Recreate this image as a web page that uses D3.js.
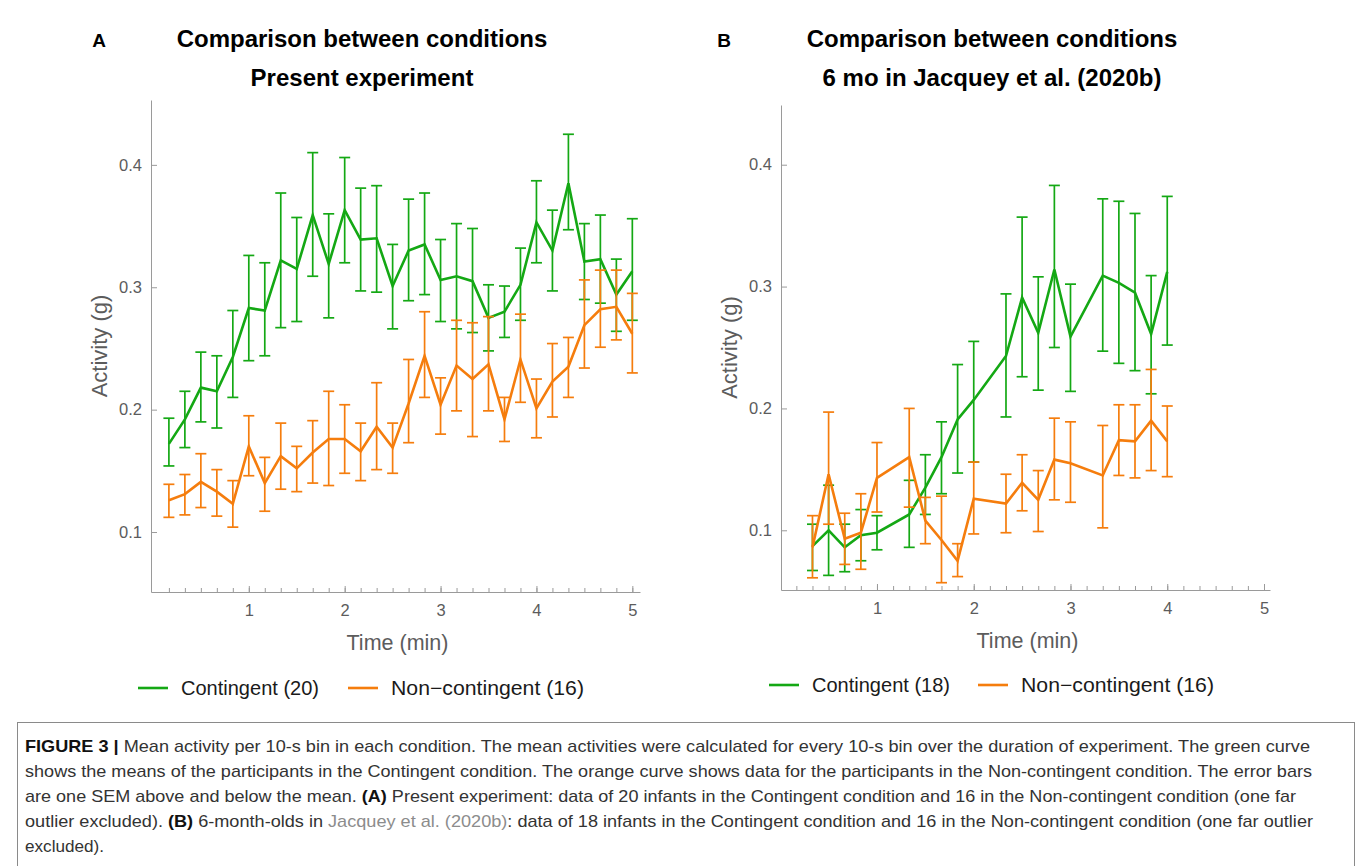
<!DOCTYPE html>
<html>
<head>
<meta charset="utf-8">
<script src="https://cdn.jsdelivr.net/npm/d3@7"></script>
<style>
  body { margin: 0; background: #fff; }
  svg { display: block; font-family: "Liberation Sans", Arial, sans-serif; }
</style>
</head>
<body>
<div id="my_dataviz"></div>
<script>
// bins (seconds) and values
var binsA = [10,20,30,40,50,60,70,80,90,100,110,120,130,140,150,160,170,180,190,200,210,220,230,240,250,260,270,280,290,300];
var contA     = [0.172,0.192,0.218,0.215,0.243,0.283,0.281,0.322,0.315,0.359,0.319,0.363,0.339,0.340,0.301,0.330,0.335,0.306,0.309,0.305,0.275,0.280,0.302,0.353,0.330,0.385,0.321,0.323,0.294,0.313];
var contA_lo  = [0.154,0.169,0.190,0.185,0.210,0.240,0.244,0.267,0.272,0.309,0.275,0.320,0.297,0.296,0.266,0.289,0.294,0.272,0.266,0.263,0.248,0.259,0.273,0.320,0.297,0.347,0.290,0.287,0.264,0.273];
var contA_hi  = [0.193,0.215,0.247,0.244,0.281,0.326,0.320,0.377,0.357,0.410,0.360,0.406,0.381,0.383,0.335,0.372,0.377,0.339,0.352,0.348,0.302,0.301,0.332,0.387,0.363,0.425,0.352,0.359,0.323,0.356];
var nonA      = [0.126,0.131,0.141,0.133,0.123,0.170,0.140,0.162,0.152,0.165,0.176,0.176,0.166,0.186,0.169,0.205,0.244,0.204,0.236,0.225,0.237,0.192,0.241,0.201,0.223,0.235,0.269,0.282,0.284,0.262];
var nonA_lo   = [0.112,0.114,0.120,0.113,0.104,0.146,0.117,0.135,0.133,0.140,0.138,0.148,0.142,0.151,0.148,0.173,0.210,0.180,0.199,0.178,0.199,0.174,0.206,0.177,0.194,0.210,0.234,0.251,0.257,0.230];
var nonA_hi   = [0.139,0.147,0.164,0.151,0.142,0.195,0.161,0.189,0.170,0.191,0.215,0.204,0.189,0.222,0.189,0.241,0.280,0.226,0.273,0.271,0.276,0.210,0.278,0.225,0.254,0.259,0.306,0.314,0.314,0.295];

var binsB = [20,30,40,50,60,80,90,100,110,120,140,150,160,170,180,200,210,220,230,240];
var contB     = [0.087,0.100,0.086,0.096,0.098,0.113,0.135,0.160,0.191,0.207,0.243,0.291,0.262,0.314,0.259,0.309,0.303,0.295,0.261,0.312];
var contB_lo  = [0.067,0.063,0.066,0.075,0.084,0.086,0.113,0.130,0.147,0.156,0.193,0.226,0.215,0.250,0.214,0.247,0.237,0.231,0.212,0.252];
var contB_hi  = [0.105,0.137,0.105,0.117,0.112,0.141,0.162,0.189,0.236,0.255,0.294,0.357,0.308,0.383,0.302,0.372,0.370,0.360,0.309,0.374];
var nonB      = [0.086,0.146,0.093,0.098,0.143,0.160,0.108,0.092,0.075,0.126,0.122,0.139,0.125,0.158,0.155,0.145,0.174,0.173,0.190,0.173];
var nonB_lo   = [0.061,0.105,0.072,0.068,0.115,0.119,0.089,0.057,0.062,0.097,0.098,0.116,0.099,0.125,0.123,0.102,0.145,0.143,0.149,0.144];
var nonB_hi   = [0.112,0.197,0.114,0.130,0.172,0.200,0.127,0.128,0.089,0.156,0.146,0.162,0.149,0.192,0.189,0.186,0.203,0.203,0.232,0.202];

var xTicks = [1,2,3,4,5];
var yTicks = [0.1,0.2,0.3,0.4];
var legendA = ["Contingent (20)", "Non\u2212contingent (16)"];
var legendB = ["Contingent (18)", "Non\u2212contingent (16)"];

var green = "#14a814", orange = "#f57d0d";
var axisCol = "#9a9a9a", textCol = "#5c5c5c";

var svg = d3.select('#my_dataviz')
  .append('svg')
    .attr('width', 1358)
    .attr('height', 866);

function panel(p) {
  var x = d3.scaleLinear().domain(p.xdom).range([p.left, p.right]);
  var y = d3.scaleLinear().domain(p.ydom).range([p.bottom, p.top]);
  var g = svg.append("g");

  // minor ticks every 10 s
  var minor = d3.range(1, 31).map(function(i) { return i / 6; });
  g.append("g")
    .attr("transform", "translate(0," + p.bottom + ")")
    .call(d3.axisBottom(x).tickValues(minor).tickSize(-4).tickSizeOuter(0).tickFormat(""))
    .call(function(a) { a.select(".domain").remove(); a.selectAll("line").attr("stroke", axisCol); });

  g.append("g")
    .attr("transform", "translate(0," + p.bottom + ")")
    .call(d3.axisBottom(x).tickValues(xTicks).tickSize(-6).tickSizeOuter(0).tickPadding(12).tickFormat(d3.format("d")))
    .call(function(a) {
      a.select(".domain").attr("stroke", axisCol);
      a.selectAll("line").attr("stroke", axisCol);
      a.selectAll("text").attr("fill", textCol).style("font-size", "16.5px");
    });

  g.append("g")
    .attr("transform", "translate(" + p.left + ",0)")
    .call(d3.axisLeft(y).tickValues(yTicks).tickSize(-6).tickSizeOuter(0).tickPadding(9).tickFormat(d3.format(".1f")))
    .call(function(a) {
      a.select(".domain").attr("stroke", axisCol);
      a.selectAll("line").attr("stroke", axisCol);
      a.selectAll("text").attr("fill", textCol).style("font-size", "16.5px");
    });

  // axis labels
  g.append("text")
    .attr("x", (p.left + p.right) / 2 + 2)
    .attr("y", p.bottom + 58)
    .attr("text-anchor", "middle")
    .attr("fill", textCol)
    .style("font-size", "21.5px")
    .text("Time (min)");

  g.append("text")
    .attr("transform", "translate(" + (p.left - 44) + "," + ((p.top + p.bottom) / 2) + ")rotate(-90)")
    .attr("text-anchor", "middle")
    .attr("fill", textCol)
    .style("font-size", "22px")
    .text("Activity (g)");

  // titles
  g.append("text").attr("x", p.letterX).attr("y", 47)
    .attr("text-anchor", "middle").style("font-weight", "bold").style("font-size", "19px")
    .text(p.letter);
  g.append("text").attr("x", p.titleX).attr("y", 47)
    .attr("text-anchor", "middle").style("font-weight", "bold").style("font-size", "24px")
    .text("Comparison between conditions");
  g.append("text").attr("x", p.titleX).attr("y", 86)
    .attr("text-anchor", "middle").style("font-weight", "bold").style("font-size", "24px")
    .text(p.subtitle);

  var line = d3.line()
    .x(function(d) { return x(d.t); })
    .y(function(d) { return y(d.m); });

  p.series.forEach(function(s) {
    var data = p.bins.map(function(b, i) { return {t: b / 60, m: s.mean[i], lo: s.lo[i], hi: s.hi[i]}; });
    var eb = g.append("g");
    eb.selectAll("line.v").data(data).enter().append("line")
      .attr("x1", function(d) { return x(d.t); })
      .attr("x2", function(d) { return x(d.t); })
      .attr("y1", function(d) { return y(d.lo); })
      .attr("y2", function(d) { return y(d.hi); })
      .attr("stroke", s.color).attr("stroke-width", 1.7);
    eb.selectAll("line.lo").data(data).enter().append("line")
      .attr("x1", function(d) { return x(d.t) - 5.5; })
      .attr("x2", function(d) { return x(d.t) + 5.5; })
      .attr("y1", function(d) { return y(d.lo); })
      .attr("y2", function(d) { return y(d.lo); })
      .attr("stroke", s.color).attr("stroke-width", 1.7);
    eb.selectAll("line.hi").data(data).enter().append("line")
      .attr("x1", function(d) { return x(d.t) - 5.5; })
      .attr("x2", function(d) { return x(d.t) + 5.5; })
      .attr("y1", function(d) { return y(d.hi); })
      .attr("y2", function(d) { return y(d.hi); })
      .attr("stroke", s.color).attr("stroke-width", 1.7);
    g.append("path")
      .datum(data)
      .attr("fill", "none")
      .attr("stroke", s.color)
      .attr("stroke-width", 2.6)
      .attr("stroke-linejoin", "miter")
      .attr("d", line);
  });

  // legend
  p.legend.forEach(function(l, i) {
    var lx = p.legendX[i];
    g.append("line")
      .attr("x1", lx).attr("x2", lx + 30)
      .attr("y1", p.legendY).attr("y2", p.legendY)
      .attr("stroke", p.series[i].color).attr("stroke-width", 2.6);
    g.append("text")
      .attr("x", lx + 43).attr("y", p.legendY + 7)
      .attr("fill", "#1a1a1a")
      .style("font-size", "20px")
      .attr("textLength", i === 0 ? 138 : 193)
      .attr("lengthAdjust", "spacingAndGlyphs")
      .text(l);
  });
}

panel({
  left: 151, right: 640, top: 100, bottom: 592,
  xdom: [-0.02, 5.08], ydom: [0.051, 0.453],
  bins: binsA,
  series: [
    {mean: contA, lo: contA_lo, hi: contA_hi, color: green},
    {mean: nonA, lo: nonA_lo, hi: nonA_hi, color: orange}
  ],
  letter: "A", letterX: 99, titleX: 362, subtitle: "Present experiment",
  legend: legendA, legendX: [138, 348], legendY: 688
});

panel({
  left: 781, right: 1270, top: 105, bottom: 590,
  xdom: [0.008, 5.062], ydom: [0.051, 0.449],
  bins: binsB,
  series: [
    {mean: contB, lo: contB_lo, hi: contB_hi, color: green},
    {mean: nonB, lo: nonB_lo, hi: nonB_hi, color: orange}
  ],
  letter: "B", letterX: 724, titleX: 992, subtitle: "6 mo in Jacquey et al. (2020b)",
  legend: legendB, legendX: [769, 978], legendY: 685
});

// caption box
svg.append("rect")
  .attr("x", 17.5).attr("y", 722.5)
  .attr("width", 1337).attr("height", 160)
  .attr("fill", "none").attr("stroke", "#8a8a8a").attr("stroke-width", 1);

var capLines = [
  {w: 1285, parts: [["FIGURE 3 | ", "b"], ["Mean activity per 10-s bin in each condition. The mean activities were calculated for every 10-s bin over the duration of experiment. The green curve", ""]]},
  {w: 1287, parts: [["shows the means of the participants in the Contingent condition. The orange curve shows data for the participants in the Non-contingent condition. The error bars", ""]]},
  {w: 1271, parts: [["are one SEM above and below the mean. ", ""], ["(A)", "b"], [" Present experiment: data of 20 infants in the Contingent condition and 16 in the Non-contingent condition (one far", ""]]},
  {w: 1288, parts: [["outlier excluded). ", ""], ["(B)", "b"], [" 6-month-olds in ", ""], ["Jacquey et al. (2020b)", "g"], [": data of 18 infants in the Contingent condition and 16 in the Non-contingent condition (one far outlier", ""]]},
  {w: 79, parts: [["excluded).", ""]]}
];

capLines.forEach(function(c, i) {
  var t = svg.append("text")
    .attr("x", 25).attr("y", 752 + i * 25)
    .attr("fill", "#333")
    .style("font-size", "17px")
    .attr("textLength", c.w)
    .attr("lengthAdjust", "spacingAndGlyphs");
  c.parts.forEach(function(pt) {
    t.append("tspan")
      .style("font-weight", pt[1] === "b" ? "bold" : "normal")
      .attr("fill", pt[1] === "g" ? "#8c8c8c" : (pt[1] === "b" ? "#111" : "#333"))
      .text(pt[0]);
  });
});
</script>
</body>
</html>
